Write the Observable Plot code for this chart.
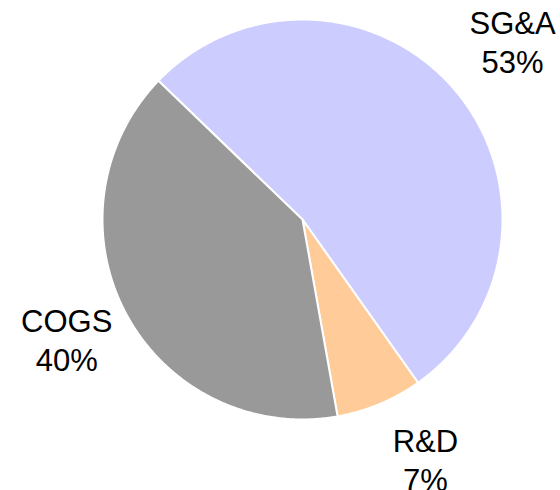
<!DOCTYPE html>
<html>
<head>
<meta charset="utf-8">
<script src="https://cdn.jsdelivr.net/npm/d3@7"></script>
<script src="https://cdn.jsdelivr.net/npm/@observablehq/plot@0.6"></script>
<style>
  html, body { margin: 0; padding: 0; background: #fff; }
</style>
</head>
<body>
<div id="chart"></div>
<script>
// Data
const categories = ["SG&A", "R&D", "COGS"];
const shares = [53, 7, 40];
const labels = ["53%", "7%", "40%"];
const colors = ["#CCCCFF", "#FFCC99", "#999999"];

// Layout
const W = 560, H = 490;
const cx = 302, cy = 219, R = 200;
const startDeg = -46.1;
const labelAngleShift = [-0.7, -5.1, 2.6];
const labelRadius = [1.40, 1.317, 1.306];
const fontSize = 31;
const lineGap = 39;

const total = d3.sum(shares);
const slices = [];
const points = [];
let a = startDeg;
const toRad = d => d * Math.PI / 180;
categories.forEach((name, i) => {
  const span = shares[i] / total * 360;
  const a0 = a, a1 = a + span;
  slices.push({name, pct: labels[i], mid: (a0 + a1) / 2});
  points.push({name, x: 0, y: 0});
  const n = Math.max(2, Math.ceil(span / 0.5));
  for (let k = 0; k <= n; k++) {
    const t = toRad(a0 + (a1 - a0) * k / n);
    points.push({name, x: Math.sin(t), y: Math.cos(t)});
  }
  points.push({name, x: 0, y: 0});
  a = a1;
});

const labelData = slices.map((s, i) => {
  const t = toRad(s.mid + labelAngleShift[i]);
  const r = labelRadius[i];
  return {name: s.name, pct: s.pct, x: r * Math.sin(t), y: r * Math.cos(t)};
});

const chart = Plot.plot({
  width: W,
  height: H,
  margin: 0,
  x: {domain: [-cx / R, (W - cx) / R], axis: null},
  y: {domain: [-(H - cy) / R, cy / R], axis: null},
  color: {domain: categories, range: colors},
  style: {fontFamily: "Liberation Sans, Arial, sans-serif", background: "white"},
  marks: [
    Plot.line(points, {x: "x", y: "y", z: "name", fill: "name", stroke: "white", strokeWidth: 2, strokeLinejoin: "round", curve: "linear"}),
    Plot.text(labelData, {x: "x", y: "y", text: "name", fontSize, lineAnchor: "bottom", fill: "black", textAnchor: "middle"}),
    Plot.text(labelData, {x: "x", y: "y", text: "pct", dy: lineGap, fontSize, lineAnchor: "bottom", fill: "black", textAnchor: "middle"})
  ]
});
document.getElementById("chart").appendChild(chart);
</script>
</body>
</html>
